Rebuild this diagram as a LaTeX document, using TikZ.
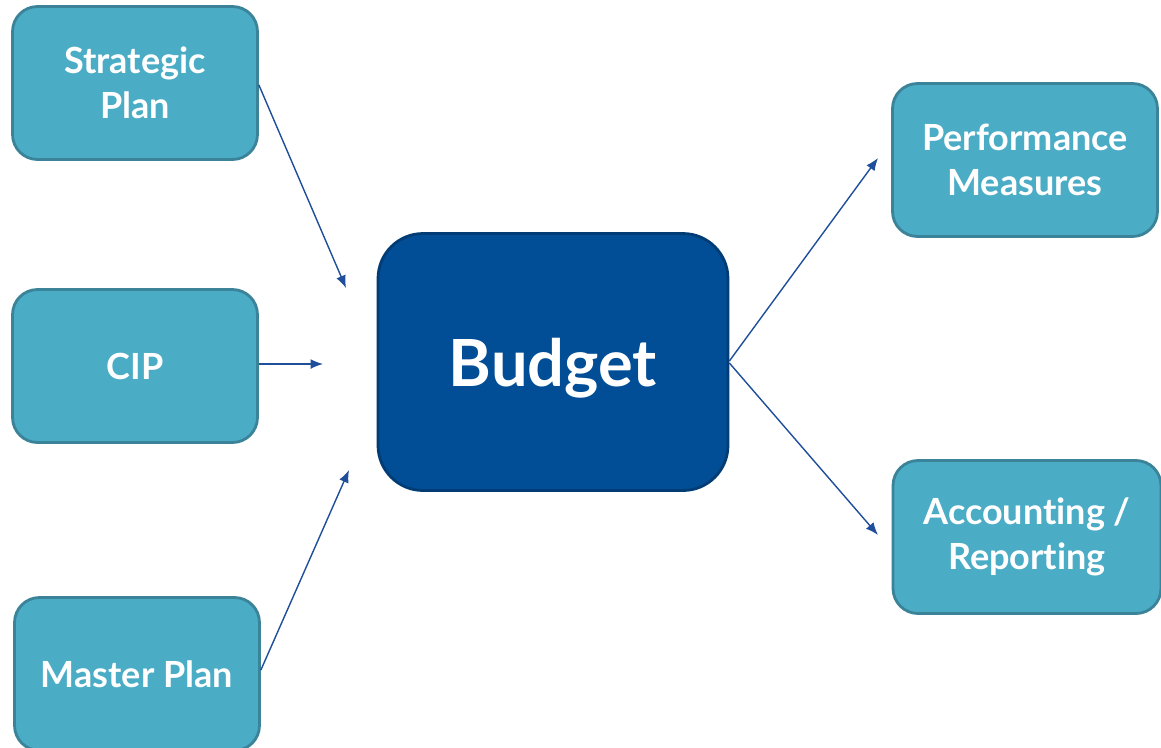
\documentclass[tikz,border=0pt]{standalone}
\usepackage{fontspec}
\setmainfont{Lato}[Ligatures=NoCommon]
\usetikzlibrary{arrows.meta,positioning}

\definecolor{aqua}{HTML}{4BACC6}
\definecolor{aquaedge}{HTML}{3A8398}
\definecolor{navy}{HTML}{014E96}
\definecolor{navyedge}{HTML}{013C74}
\definecolor{linkblue}{HTML}{1F4E9B}

\begin{document}
\begin{tikzpicture}[x=0.02cm,y=-0.02cm,
    side/.style={draw=aquaedge,line width=1.6pt,fill=aqua,rounded corners=0.5cm,
        minimum width=4.9cm,minimum height=3.06cm,align=center,text=white,
        font=\fontsize{20.5}{25.5}\selectfont\bfseries},
    hub/.style={draw=navyedge,line width=1.6pt,fill=navy,rounded corners=0.9cm,
        minimum width=7cm,minimum height=5.14cm,text=white,text depth=0pt,
        font=\fontsize{37}{44}\selectfont\bfseries},
    link/.style={-{Latex[length=0.25cm,width=0.2cm]},draw=linkblue,line width=0.8pt}]

% Page frame
\useasboundingbox (0,0) rectangle (1161,748);

% Boxes
    \node[side] (strat) at (135,83) {Strategic\\Plan};
    \node[side] (cip) at (135,366) {CIP};
    \node[side] (master) at (137,674) {Master Plan};
    \node[hub] (budget) at (553,362) {Budget};
    \node[side,minimum width=5.3cm] (perf) at (1025,160) {Performance\\Measures};
    \node[side,minimum width=5.36cm] (acct) at (1027,537) {Accounting /\\Reporting};

% Arrow tips (free ends)
    \coordinate (stratend) at (346,288);
    \coordinate (cipend) at (323,364);
    \coordinate (masterend) at (349,470);
    \coordinate (perfend) at (878,158);
    \coordinate (acctend) at (878,535);

% Arrows in and out
    \draw[link] (strat.east |- 0,85) -- (stratend);
    \draw[link] (cip.east |- 0,364) -- (cipend);
    \draw[link] (master.east |- 0,670) -- (masterend);
    \draw[link] (budget.east |- 0,361) -- (perfend);
    \draw[link] (budget.east |- 0,363) -- (acctend);

\end{tikzpicture}
\end{document}
